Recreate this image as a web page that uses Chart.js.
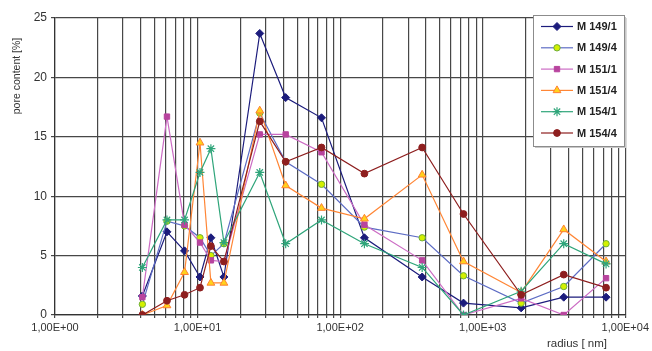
<!DOCTYPE html>
<html>
<head>
<meta charset="utf-8">
<title>pore content</title>
<script src="https://cdn.jsdelivr.net/npm/chart.js@4.4.1/dist/chart.umd.min.js"></script>
<style>
    html, body { margin: 0; padding: 0; background: #fff; }
    #wrap { width: 652px; height: 351px; }
</style>
</head>
<body>
<div id="wrap"><canvas id="poreChart" width="652" height="351"></canvas></div>
<script>
// Porenradien [nm]
const radii = [4.1, 6.1, 8.1, 10.4, 12.4, 15.3, 27.3, 41.5, 74, 148, 376, 733, 1860, 3700, 7330];

// Porenanteile [%] je Probe
const m149_1 = [1.6, 7.0, 5.4, 3.2, 6.5, 3.2, 23.7, 18.3, 16.6, 6.5, 3.2, 1.0, 0.6, 1.5, 1.5];
const m149_4 = [0.9, 7.9, 7.5, 6.5, 5.0, 6.0, 17.0, 12.9, 11.0, 7.4, 6.5, 3.3, 1.0, 2.4, 6.0];
const m151_1 = [1.5, 16.7, 7.6, 6.1, 4.6, 4.5, 15.2, 15.2, 13.7, 7.6, 4.6, 0.0, 1.4, 0.0, 3.1];
const m151_4 = [0.0, 0.8, 3.6, 14.5, 2.7, 2.7, 17.2, 10.9, 9.0, 8.1, 11.8, 4.5, 1.9, 7.2, 4.5];
const m154_1 = [4.0, 8.0, 8.0, 12.0, 14.0, 6.1, 12.0, 6.0, 8.0, 6.0, 4.0, 0.0, 2.0, 6.0, 4.3];
const m154_4 = [0.0, 1.2, 1.7, 2.3, 5.8, 4.5, 16.3, 12.9, 14.1, 11.9, 14.1, 8.5, 1.7, 3.4, 2.3];

const seriesNames = ['M 149/1', 'M 149/4', 'M 151/1', 'M 151/4', 'M 154/1', 'M 154/4'];

// Achsen
const xDecades = [1, 10, 100, 1000, 10000];
const xDecadeLabels = ['1,00E+00', '1,00E+01', '1,00E+02', '1,00E+03', '1,00E+04'];
const yTicks = [0, 5, 10, 15, 20, 25];

const FONT = '"Liberation Sans", Arial, sans-serif';
const GRID = '#474747';

// Gitterlinien bei jedem ganzzahligen Vielfachen der Dekade
const xGrid = [];
xDecades.slice(0, -1).forEach(d => {
    for (let m = 1; m <= 9; m++) xGrid.push(d * m);
});
xGrid.push(xDecades[xDecades.length - 1]);

function toPoints(values) {
    return values.map((v, i) => ({ x: radii[i], y: v }));
}

function makeSet(label, values, style) {
    return Object.assign({
        label: label,
        data: toPoints(values),
        borderWidth: 1.2,
        pointBorderWidth: 1,
        tension: 0
    }, style);
}

const datasets = [
    makeSet(seriesNames[0], m149_1, {
        borderColor: '#1c1c7c', backgroundColor: '#1c1c7c',
        pointStyle: 'rectRot', pointRadius: 4, pointBorderColor: '#1c1c7c', order: 5
    }),
    makeSet(seriesNames[1], m149_4, {
        borderColor: '#5d6cc4', backgroundColor: '#d4f000',
        pointStyle: 'circle', pointRadius: 3.2, pointBorderColor: '#6fae3c', order: 4
    }),
    makeSet(seriesNames[2], m151_1, {
        borderColor: '#cc6cc4', backgroundColor: '#b8449e',
        pointStyle: 'rect', pointRadius: 3.8, pointBorderColor: '#b8449e', order: 3
    }),
    makeSet(seriesNames[3], m151_4, {
        borderColor: '#ff8636', backgroundColor: '#ffd21c',
        pointStyle: 'triangle', pointRadius: 4.5, pointBorderColor: '#ff8030', order: 2
    }),
    makeSet(seriesNames[4], m154_1, {
        borderColor: '#2fa57a', backgroundColor: '#2fa57a',
        pointStyle: 'star', pointRadius: 4.5, pointBorderColor: '#2fa57a', pointBorderWidth: 1.2, order: 1
    }),
    makeSet(seriesNames[5], m154_4, {
        borderColor: '#8e1f1f', backgroundColor: '#8e1f1f',
        pointStyle: 'circle', pointRadius: 3.4, pointBorderColor: '#8e1f1f', order: 0
    })
];

// Legende als Kasten oben rechts im Diagramm
const boxLegend = {
    id: 'boxLegend',
    afterDraw(chart) {
        const ctx = chart.ctx;
        const left = 533, top = 15, w = 91, h = 131;
        ctx.save();
        ctx.fillStyle = '#c8c8c8';
        ctx.fillRect(left + 2, top + 2, w, h);
        ctx.fillStyle = '#fff';
        ctx.fillRect(left, top, w, h);
        ctx.strokeStyle = '#8c8c8c';
        ctx.lineWidth = 1;
        ctx.strokeRect(left + 0.5, top + 0.5, w, h);

        chart.data.datasets.forEach((ds, i) => {
            const y = top + 11.5 + i * 21.3;
            ctx.strokeStyle = ds.borderColor;
            ctx.lineWidth = ds.borderWidth;
            ctx.beginPath();
            ctx.moveTo(541, y);
            ctx.lineTo(573, y);
            ctx.stroke();

            ctx.fillStyle = ds.backgroundColor;
            ctx.strokeStyle = ds.pointBorderColor;
            ctx.lineWidth = ds.pointBorderWidth;
            Chart.helpers.drawPoint(ctx, {
                pointStyle: ds.pointStyle,
                radius: ds.pointRadius,
                rotation: 0,
                borderWidth: ds.pointBorderWidth
            }, 557, y);

            ctx.fillStyle = '#222';
            ctx.font = 'bold 11px ' + FONT;
            ctx.textBaseline = 'middle';
            ctx.textAlign = 'left';
            ctx.fillText(ds.label, 577, y + 0.5);
        });
        ctx.restore();
    }
};

// Achsentitel
const axisTitles = {
    id: 'axisTitles',
    afterDraw(chart) {
        const ctx = chart.ctx;
        ctx.save();
        ctx.fillStyle = '#333';
        ctx.font = '10.5px ' + FONT;
        ctx.textAlign = 'center';
        ctx.textBaseline = 'middle';
        ctx.translate(17, 76);
        ctx.rotate(-Math.PI / 2);
        ctx.fillText('pore content [%]', 0, 0);
        ctx.restore();

        ctx.save();
        ctx.fillStyle = '#333';
        ctx.font = '11.5px ' + FONT;
        ctx.textAlign = 'center';
        ctx.textBaseline = 'middle';
        ctx.fillText('radius [ nm]', 577, 344);
        ctx.restore();
    }
};

const ctx = document.getElementById('poreChart').getContext('2d');
const poreChart = new Chart(ctx, {
    type: 'line',
    data: { datasets: datasets },
    options: {
        responsive: false,
        animation: false,
        layout: { padding: { top: 18, right: 26, left: 0, bottom: 0 } },
        plugins: {
            legend: { display: false },
            tooltip: { enabled: false }
        },
        scales: {
            x: {
                type: 'logarithmic',
                min: 1,
                max: 10000,
                afterBuildTicks: function(scale) {
                    scale.ticks = xGrid.map(v => ({ value: v, major: xDecades.includes(v) }));
                },
                afterFit: function(scale) { scale.height = 36; },
                ticks: {
                    autoSkip: false,
                    maxRotation: 0,
                    padding: 3,
                    color: '#333',
                    font: { family: FONT, size: 11 },
                    callback: function(value) {
                        const k = xDecades.indexOf(value);
                        return k >= 0 ? xDecadeLabels[k] : '';
                    }
                },
                grid: { color: GRID, lineWidth: 1.2, tickLength: 3 },
                border: { color: '#333', width: 1.2 }
            },
            y: {
                min: 0,
                max: 25,
                afterBuildTicks: function(scale) {
                    scale.ticks = yTicks.map(v => ({ value: v }));
                },
                afterFit: function(scale) { scale.width = 55; },
                ticks: {
                    padding: 4,
                    color: '#333',
                    font: { family: FONT, size: 12 }
                },
                grid: { color: GRID, lineWidth: 1.2, tickLength: 4 },
                border: { color: '#333', width: 1.2 }
            }
        }
    },
    plugins: [boxLegend, axisTitles]
});
</script>
</body>
</html>
